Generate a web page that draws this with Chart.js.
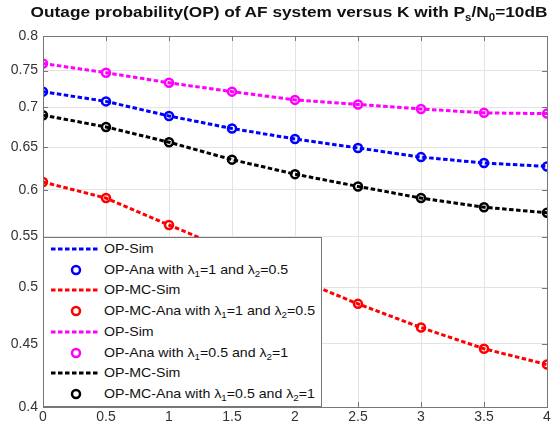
<!DOCTYPE html>
<html>
<head>
<meta charset="utf-8">
<script src="https://cdn.jsdelivr.net/npm/chart.js@4"></script>
<style>
  body { margin: 0; background: #fff; font-family: "Liberation Sans", Arial, sans-serif; }
  #wrap { position: relative; width: 558px; height: 432px; }
  #titulo { position: absolute; left: 289px; top: 3px; transform: translateX(-50%) scaleX(1.15); font-weight: bold; font-size: 15px; color: #111; white-space: nowrap; }
  #titulo sub { font-size: 10px; vertical-align: -4px; }
  #leyenda { position: absolute; left: 43px; top: 237px; width: 279px; height: 170px; background: #fff; border: 1px solid #777; box-sizing: border-box; font-size: 13px; }
  .fila { position: absolute; left: 0; height: 20px; width: 100%; }
  .fila svg { position: absolute; left: 6px; top: 0; }
  .fila span { position: absolute; left: 60px; top: 2px; white-space: nowrap; color: #111; transform: scaleX(1.09); transform-origin: left center; }
  .fila sub { font-size: 9px; vertical-align: -3px; }
</style>
</head>
<body>
<div id="wrap">
  <canvas id="grafico" width="558" height="432"></canvas>
  <div id="titulo">Outage probability(OP) of AF system versus K with P<sub>s</sub>/N<sub>0</sub>=10dB</div>
  <div id="leyenda"></div>
</div>
<script>
// DATOS
const kValues = [0, 0.5, 1, 1.5, 2, 2.5, 3, 3.5, 4];
const opBlue = [0.721, 0.708, 0.689, 0.673, 0.660, 0.649, 0.638, 0.631, 0.627];
const opRed = [0.609, 0.591, 0.562, 0.535, 0.509, 0.485, 0.464, 0.446, 0.433];
const opMagenta = [0.760, 0.747, 0.733, 0.721, 0.710, 0.704, 0.698, 0.693, 0.692];
const opBlack = [0.690, 0.675, 0.656, 0.635, 0.618, 0.604, 0.591, 0.581, 0.575];
const yTicks = [0.4, 0.45, 0.5, 0.55, 0.6, 0.65, 0.7, 0.75, 0.8];
const xTicks = [0, 0.5, 1, 1.5, 2, 2.5, 3, 3.5, 4];

const series = [
    { sim: 'OP-Sim', ana: 'OP-Ana with λ<sub>1</sub>=1 and λ<sub>2</sub>=0.5', color: '#0000ff', data: opBlue },
    { sim: 'OP-MC-Sim', ana: 'OP-MC-Ana with λ<sub>1</sub>=1 and λ<sub>2</sub>=0.5', color: '#ff0000', data: opRed },
    { sim: 'OP-Sim', ana: 'OP-Ana with λ<sub>1</sub>=0.5 and λ<sub>2</sub>=1', color: '#ff00ff', data: opMagenta },
    { sim: 'OP-MC-Sim', ana: 'OP-MC-Ana with λ<sub>1</sub>=0.5 and λ<sub>2</sub>=1', color: '#000000', data: opBlack }
];

const toPoints = arr => arr.map((v, i) => ({ x: kValues[i], y: v }));

const datasets = [];
series.forEach(s => {
    datasets.push({
        label: s.sim, data: toPoints(s.data), borderColor: s.color,
        borderWidth: 3, borderDash: [4.5, 2.5], pointRadius: 0, fill: false
    });
    datasets.push({
        label: 'ana', data: toPoints(s.data), showLine: false, borderColor: s.color,
        backgroundColor: 'rgba(0,0,0,0)', pointRadius: 4, pointBorderWidth: 2.5, pointStyle: 'circle'
    });
});

// ticks hacia adentro en los 4 lados (estilo MATLAB)
const marcasPlugin = {
    id: 'marcas',
    afterDraw(chart) {
        const { ctx, chartArea: a, scales } = chart;
        ctx.save();
        ctx.strokeStyle = '#777';
        ctx.lineWidth = 1;
        ctx.beginPath();
        xTicks.forEach(v => {
            const x = Math.round(scales.x.getPixelForValue(v)) + 0.5;
            ctx.moveTo(x, a.bottom); ctx.lineTo(x, a.bottom - 5);
            ctx.moveTo(x, a.top); ctx.lineTo(x, a.top + 5);
        });
        yTicks.forEach(v => {
            const y = Math.round(scales.y.getPixelForValue(v)) + 0.5;
            ctx.moveTo(a.left, y); ctx.lineTo(a.left + 5, y);
            ctx.moveTo(a.right, y); ctx.lineTo(a.right - 5, y);
        });
        ctx.stroke();
        ctx.strokeRect(a.left + 0.5, a.top + 0.5, a.right - a.left, a.bottom - a.top);
        ctx.restore();
    }
};

const fuente = { family: '"Liberation Sans", Arial, sans-serif', size: 14 };

new Chart(document.getElementById('grafico'), {
    type: 'line',
    data: { datasets },
    options: {
        responsive: false,
        animation: false,
        layout: { padding: { top: 36, right: 11, left: 0, bottom: 0 } },
        plugins: { legend: { display: false }, tooltip: { enabled: false } },
        scales: {
            x: {
                type: 'linear', min: 0, max: 4,
                afterBuildTicks: s => { s.ticks = xTicks.map(v => ({ value: v })); },
                afterFit: s => { s.height = 25; },
                ticks: { color: '#333', font: fuente, padding: 2, maxRotation: 0, callback: v => String(v) },
                grid: { color: '#e3e3e3', drawTicks: false },
                border: { display: false }
            },
            y: {
                type: 'logarithmic', min: 0.4, max: 0.8,
                afterBuildTicks: s => { s.ticks = yTicks.map(v => ({ value: v })); },
                afterFit: s => { s.width = 43; },
                ticks: { color: '#333', font: fuente, padding: 5, callback: v => String(v) },
                grid: { color: '#e3e3e3', drawTicks: false },
                border: { display: false }
            }
        }
    },
    plugins: [marcasPlugin]
});

// LEYENDA
const leyenda = document.getElementById('leyenda');
const altoFila = 20.7;
let fila = 0;
series.forEach(s => {
    const top1 = 1 + fila * altoFila;
    const top2 = 1 + (fila + 1) * altoFila;
    leyenda.innerHTML += `
        <div class="fila" style="top:${top1}px">
            <svg width="50" height="20"><line x1="1" y1="10" x2="49" y2="10" stroke="${s.color}" stroke-width="3" stroke-dasharray="4.5 2.5"/></svg>
            <span>${s.sim}</span>
        </div>
        <div class="fila" style="top:${top2}px">
            <svg width="50" height="20"><circle cx="26" cy="10" r="4" fill="none" stroke="${s.color}" stroke-width="2.5"/></svg>
            <span>${s.ana}</span>
        </div>`;
    fila += 2;
});
</script>
</body>
</html>
